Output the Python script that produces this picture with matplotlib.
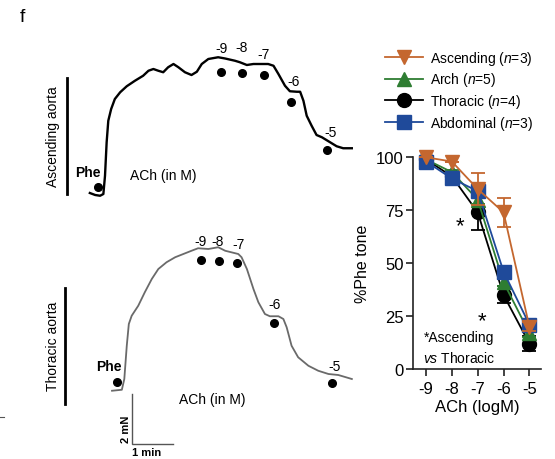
import matplotlib
matplotlib.use("Agg")
import matplotlib.pyplot as plt
from matplotlib.lines import Line2D

FONT = ["Liberation Sans", "DejaVu Sans"]
plt.rcParams["font.family"] = FONT
plt.rcParams["mathtext.fontset"] = "custom"
plt.rcParams["mathtext.it"] = "Liberation Sans:italic"
plt.rcParams["mathtext.rm"] = "Liberation Sans"

# ---------------- data ----------------
# Ascending aorta trace (time in min, tension in mN)
asc_trace_t = [0.02, 0.15, 0.27, 0.35, 0.39, 0.43, 0.47, 0.54, 0.63, 0.76, 0.92, 1.12,
               1.32, 1.45, 1.57, 1.69, 1.81, 1.93, 2.06, 2.18, 2.34, 2.50, 2.63, 2.75,
               2.91, 3.15, 3.32, 3.56, 3.68, 3.85, 4.01, 4.17, 4.37, 4.50, 4.62, 4.78,
               4.90, 5.07, 5.15, 5.23, 5.31, 5.43, 5.55, 5.68, 5.88, 6.04, 6.20, 6.41]
asc_trace_f = [0.16, 0.08, 0.05, 0.12, 0.85, 2.19, 3.05, 3.52, 3.92, 4.19, 4.43, 4.65,
               4.85, 5.05, 5.12, 5.05, 4.99, 5.19, 5.32, 5.19, 4.99, 4.88, 5.01, 5.32,
               5.52, 5.59, 5.54, 5.45, 5.39, 5.28, 5.32, 5.32, 5.32, 5.25, 4.92, 4.45,
               4.23, 4.21, 4.21, 3.85, 3.25, 2.85, 2.48, 2.39, 2.19, 2.03, 1.95, 1.95]
asc_dose_t = [0.21, 3.22, 3.73, 4.28, 4.92, 5.80]
asc_dose_f = [0.41, 5.01, 4.95, 4.88, 3.80, 1.89]

# Thoracic aorta trace
thor_trace_t = [0.0, 0.24, 0.30, 0.36, 0.41, 0.48, 0.64, 0.80, 0.97, 1.13, 1.33, 1.54,
                1.74, 1.94, 2.10, 2.35, 2.59, 2.76, 3.08, 3.16, 3.29, 3.45, 3.57, 3.73,
                3.85, 4.06, 4.18, 4.26, 4.38, 4.54, 4.79, 5.03, 5.28, 5.52, 5.85]
thor_trace_f = [0.01, 0.05, 0.48, 1.81, 2.68, 3.01, 3.41, 3.95, 4.48, 4.88, 5.15, 5.35,
                5.48, 5.61, 5.71, 5.68, 5.75, 5.61, 5.48, 5.35, 4.88, 4.08, 3.55, 3.08,
                2.99, 2.99, 2.88, 2.55, 1.81, 1.35, 1.01, 0.81, 0.68, 0.64, 0.48]
thor_dose_t = [0.13, 2.18, 2.62, 3.04, 3.96, 5.37]
thor_dose_f = [0.37, 5.24, 5.19, 5.11, 2.72, 0.32]

dose_labels = ["-9", "-8", "-7", "-6", "-5"]
scale_time = 1.0   # min
scale_force = 2.0  # mN

# Concentration-response
conc = [-9, -8, -7, -6, -5]
conc_ticks = ["-9", "-8", "-7", "-6", "-5"]
asc = [100, 98, 85, 74, 20]
asc_err = [0, 0, 7.5, 7, 2]
arch = [99, 93, 80, 41, 17]
arch_err = [0, 1, 2, 2, 2]
thor = [99, 91, 74, 35, 12]
thor_err = [0, 2, 8.5, 4, 3.5]
abd = [98, 90, 84, 46, 21]
abd_err = [0, 1, 2, 2, 2]
yticks = [0, 25, 50, 75, 100]

# ---------------- layout ----------------
W, H = 555, 460
fig = plt.figure(figsize=(W / 100, H / 100), dpi=100)


def fx(x):
    return x / W


def fy(y):
    return 1 - y / H


def ftext(x, y, s, **kw):
    kw.setdefault("ha", "center")
    kw.setdefault("va", "center")
    fig.text(fx(x), fy(y), s, **kw)


def fline(xs, ys, **kw):
    fig.add_artist(Line2D([fx(x) for x in xs], [fy(y) for y in ys],
                          transform=fig.transFigure, **kw))


TXT = 10
ftext(22, 17, "f", fontsize=14)

# ---- top trace ----
ax_top = fig.add_axes([fx(80), fy(205), fx(360) - fx(80), fy(40) - fy(205)])
ax_top.set_xlim(-0.22, 6.61)
ax_top.set_ylim(-0.28, 6.32)
ax_top.axis("off")
ax_top.plot(asc_trace_t, asc_trace_f, color="black", lw=1.7)
ax_top.plot(asc_dose_t, asc_dose_f, "o", color="black", ms=5.5)
top_offsets = [(0, 24), (0, 26), (-1, 21), (2.5, 21), (3.3, 17.5)]
for (t, f), lab, off in zip(list(zip(asc_dose_t, asc_dose_f))[1:], dose_labels, top_offsets):
    ax_top.annotate(lab, (t, f), xytext=off, textcoords="offset pixels",
                    ha="center", va="center", fontsize=TXT)

fline([67.3, 67.3], [79.3, 195], color="black", lw=2.0)
ftext(53, 137, "Ascending aorta", rotation=90, fontsize=TXT)
ftext(87.5, 173, "Phe", fontsize=TXT, fontweight="bold")
ftext(163.3, 176, "ACh (in M)", fontsize=TXT)

# ---- bottom trace ----
ax_bot = fig.add_axes([fx(100), fy(460), fx(360) - fx(100), fy(225) - fy(460)])
ax_bot.set_xlim(-0.293, 6.049)
ax_bot.set_ylim(-2.72, 6.68)
ax_bot.axis("off")
ax_bot.plot(thor_trace_t, thor_trace_f, color="#6a6a6a", lw=1.3)
ax_bot.plot(thor_dose_t, thor_dose_f, "o", color="black", ms=5.5)
bot_offsets = [(-0.6, 19.3), (-1.6, 20.6), (1.6, 19.3), (0.7, 19), (2, 17.3)]
for (t, f), lab, off in zip(list(zip(thor_dose_t, thor_dose_f))[1:], dose_labels, bot_offsets):
    ax_bot.annotate(lab, (t, f), xytext=off, textcoords="offset pixels",
                    ha="center", va="center", fontsize=TXT)
sb_t0, sb_f0 = 0.495, -0.12
ax_bot.plot([sb_t0, sb_t0, sb_t0 + scale_time],
            [sb_f0, sb_f0 - scale_force, sb_f0 - scale_force],
            color="#555555", lw=1.0, solid_joinstyle="miter")

fline([65, 65], [289.3, 405], color="black", lw=2.0)
ftext(53.3, 346, "Thoracic aorta", rotation=90, fontsize=TXT)
ftext(109, 366.7, "Phe", fontsize=TXT, fontweight="bold")
ftext(212, 400, "ACh (in M)", fontsize=TXT)
ftext(126, 429, "2 mN", rotation=90, fontsize=8, fontweight="bold")
ftext(146.7, 453, "1 min", fontsize=8, fontweight="bold")
fline([0, 4], [417.5, 417.5], color="#555555", lw=0.8)

# ---- concentration-response ----
ax = fig.add_axes([fx(413.3), fy(370), fx(541) - fx(413.3), fy(158.3) - fy(370)])
ax.set_xlim(-9.492, -4.55)
ax.set_ylim(0, 100)
C_ASC, C_ARCH, C_THOR, C_ABD = "#C4672F", "#2E7D32", "#000000", "#1F4A9A"
series = [
    (thor, thor_err, C_THOR, "o", 10, "Thoracic ($n$=4)", 2),
    (arch, arch_err, C_ARCH, "^", 10.5, "Arch ($n$=5)", 3),
    (abd, abd_err, C_ABD, "s", 10.5, "Abdominal ($n$=3)", 4),
    (asc, asc_err, C_ASC, "v", 10.5, "Ascending ($n$=3)", 5),
]
handles = {}
for vals, err, col, mk, ms, lab, z in series:
    eb = ax.errorbar(conc, vals, yerr=err, color=col, marker=mk, ms=ms, lw=1.3,
                     elinewidth=1.3, capsize=5, capthick=1.3, zorder=z, clip_on=False)
    for a in [eb.lines[0], *eb.lines[1], *eb.lines[2]]:
        a.set_clip_on(False)
    handles[lab] = Line2D([], [], color=col, marker=mk, ms=ms, lw=1.3)

ax.spines["top"].set_visible(False)
ax.spines["right"].set_visible(False)
for s in ("left", "bottom"):
    ax.spines[s].set_linewidth(1.2)
    ax.spines[s].set_color("#222222")
ax.set_xticks(conc)
ax.set_xticklabels(conc_ticks)
ax.set_yticks(yticks)
ax.tick_params(length=5, width=1.2, labelsize=12, color="#222222")
ax.tick_params(axis="y", pad=2)
ax.tick_params(axis="x", pad=4)
ax.set_ylabel("%Phe tone", fontsize=11.5, labelpad=4)
ax.set_xlabel("ACh (logM)", fontsize=12, labelpad=2)

ax.text(-7.68, 67.5, "*", fontsize=16, ha="center", va="center")
ax.text(-6.84, 22.8, "*", fontsize=16, ha="center", va="center")
ax.text(-9.1, 15, "*Ascending", fontsize=10, ha="left", va="center")
ax.text(-9.1, 5.5, "$vs$ Thoracic", fontsize=10, ha="left", va="center")

order = ["Ascending ($n$=3)", "Arch ($n$=5)", "Thoracic ($n$=4)", "Abdominal ($n$=3)"]
fig.legend([handles[k] for k in order], order, loc="upper left",
           bbox_to_anchor=(fx(385), fy(49.5)), frameon=False, fontsize=10,
           handlelength=2.7, handletextpad=0.55, labelspacing=0.28,
           borderpad=0, borderaxespad=0)

fig.savefig("out.png", dpi=100)
